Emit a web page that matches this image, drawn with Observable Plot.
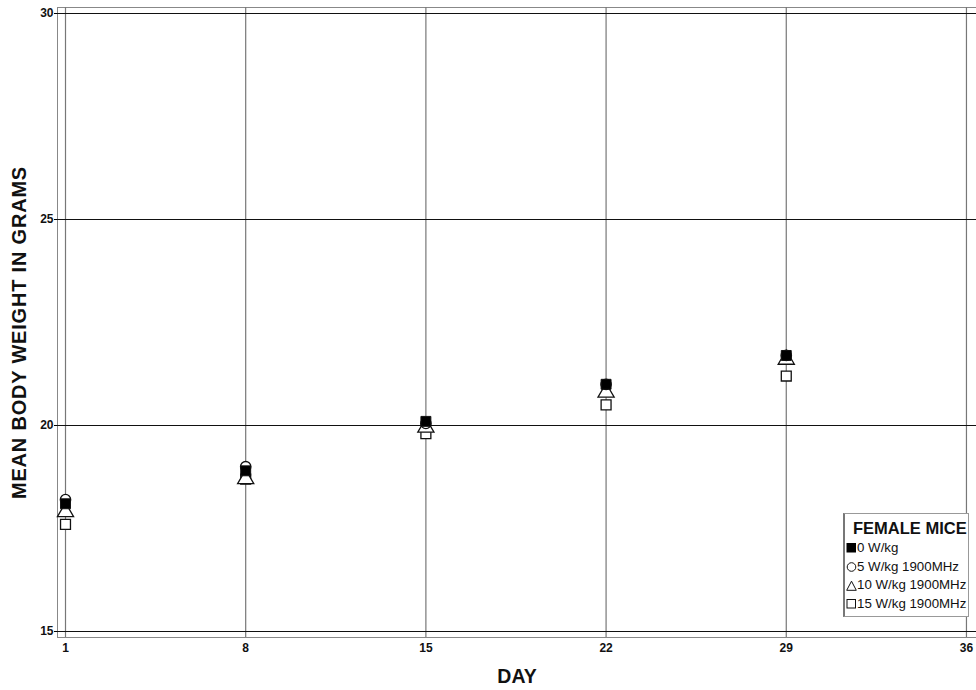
<!DOCTYPE html>
<html>
<head>
<meta charset="utf-8">
<script src="https://cdn.jsdelivr.net/npm/d3@7"></script>
<script src="https://cdn.jsdelivr.net/npm/@observablehq/plot@0.6"></script>
<style>
  html, body { margin: 0; padding: 0; background: #fff; }
  #wrap { position: relative; width: 976px; height: 690px; font-family: "Liberation Sans", Arial, sans-serif; }
  #legend { position: absolute; left: 843px; top: 513px; width: 126px; height: 104px; background: #fff;
            border: 1px solid #999; border-left: 2px solid #777; box-sizing: border-box; padding: 3px 0 0 1px; }
  #legend .title { font-weight: bold; font-size: 16.5px; line-height: 20px; margin: 1px 0 1px 7px; color: #111; }
  #legend .item { font-size: 13.3px; height: 18.7px; line-height: 18.7px; display: flex; align-items: center; color: #111; white-space: nowrap; }
  #legend svg { margin-right: 0px; }
</style>
</head>
<body>
<div id="wrap"></div>
<script>
const days = [1, 8, 15, 22, 29];
const seriesNames = ["0 W/kg", "5 W/kg 1900MHz", "10 W/kg 1900MHz", "15 W/kg 1900MHz"];
const w0 = [18.1, 18.9, 20.1, 21.0, 21.7];
const w5 = [18.2, 19.0, 20.05, 21.0, 21.7];
const w10 = [17.9, 18.7, 19.95, 20.8, 21.6];
const w15 = [17.6, 18.7, 19.8, 20.5, 21.2];
const xTicks = [1, 8, 15, 22, 29, 36];
const yTicks = [15, 20, 25, 30];
const legendTitle = "FEMALE MICE";
const xLabel = "DAY";
const yLabel = "MEAN BODY WEIGHT IN GRAMS";

const mk = (vals, name) => days.map((d, i) => ({day: d, w: vals[i], s: name}));
const d0 = mk(w0, seriesNames[0]);
const d5 = mk(w5, seriesNames[1]);
const d10 = mk(w10, seriesNames[2]);
const d15 = mk(w15, seriesNames[3]);

const plot = Plot.plot({
  width: 976,
  height: 690,
  marginLeft: 57,
  marginRight: 0,
  marginTop: 7,
  marginBottom: 53,
  style: {fontFamily: "Liberation Sans, Arial, sans-serif", background: "#fff"},
  x: {domain: [0.689, 36.39], ticks: xTicks, label: null},
  y: {domain: [14.854, 30.146], ticks: yTicks, label: null},
  marks: [
    Plot.frame({stroke: "#888", strokeWidth: 1}),
    Plot.ruleX(xTicks, {stroke: "#777", strokeWidth: 1.2}),
    Plot.ruleY(yTicks, {stroke: "#111", strokeWidth: 1.2}),
    Plot.axisX({ticks: xTicks, tickSize: 0, tickPadding: 6, fontSize: 12, fontWeight: "bold", fill: "#111", label: null}),
    Plot.axisY({ticks: yTicks, tickSize: 3, tickPadding: 1, fontSize: 12, fontWeight: "bold", fill: "#111", label: null}),
    Plot.text([xLabel], {frameAnchor: "bottom", dy: 45, fontSize: 19.5, fontWeight: "bold", fill: "#111", className: "xlab"}),
    Plot.text([yLabel], {frameAnchor: "left", textAnchor: "middle", rotate: -90, dx: -38, dy: 10, fontSize: 20, fontWeight: "bold", fill: "#111", className: "ylab"}),
    Plot.dot(d15, {x: "day", y: "w", symbol: "square", r: 5.6, stroke: "#111", strokeWidth: 1.3, fill: "#fff"}),
    Plot.dot(d10, {x: "day", y: "w", symbol: "triangle", r: 6, stroke: "#111", strokeWidth: 1.3, fill: "#fff"}),
    Plot.dot(d5, {x: "day", y: "w", symbol: "circle", r: 5.2, stroke: "#111", strokeWidth: 1.3, fill: "#fff"}),
    Plot.dot(d0, {x: "day", y: "w", symbol: "square", r: 5.6, stroke: "#111", strokeWidth: 1, fill: "#000"})
  ]
});

d3.select(plot).selectAll(".ylab text").style("letter-spacing", "0.8px");

const wrap = document.getElementById("wrap");
wrap.appendChild(plot);

const sym = [
  '<rect x="1" y="1.5" width="8.5" height="8.5" fill="#000" stroke="#000"/>',
  '<circle cx="5.5" cy="6" r="4.3" fill="#fff" stroke="#111" stroke-width="1"/>',
  '<path d="M5.5 1.2 L10.3 10.3 L0.7 10.3 Z" fill="#fff" stroke="#111" stroke-width="1"/>',
  '<rect x="1" y="1.5" width="8.5" height="8.5" fill="#fff" stroke="#111" stroke-width="1"/>'
];
const leg = document.createElement("div");
leg.id = "legend";
let html = '<div class="title">' + legendTitle + '</div>';
seriesNames.forEach((n, i) => {
  html += '<div class="item"><svg width="11" height="12">' + sym[i] + '</svg>' + n + '</div>';
});
leg.innerHTML = html;
wrap.appendChild(leg);
</script>
</body>
</html>
